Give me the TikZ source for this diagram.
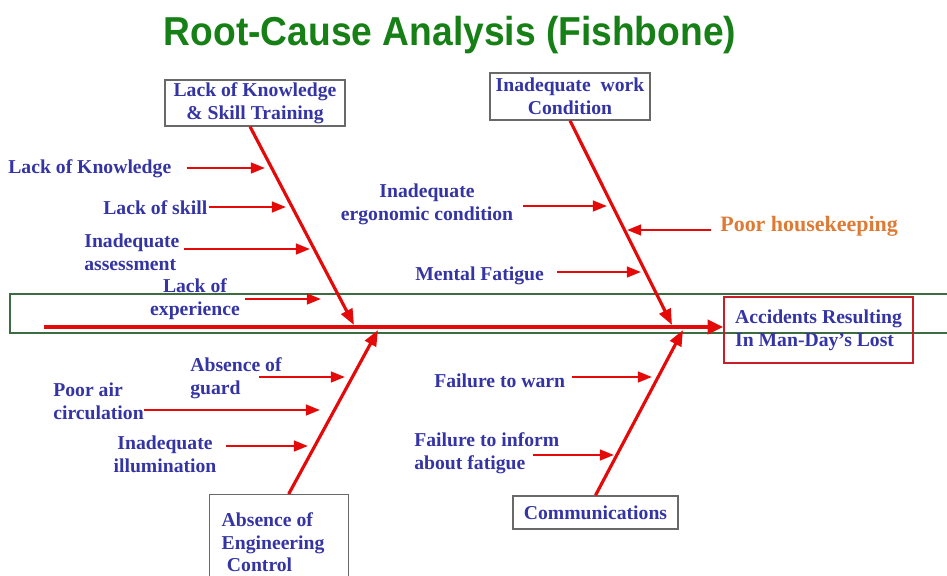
\documentclass[tikz,border=0pt]{standalone}
\usepackage{fontspec}
\setmainfont{Liberation Serif}
\newfontfamily\headfont{Liberation Sans}
\usetikzlibrary{arrows.meta, positioning, calc}
\definecolor{causeblue}{RGB}{52,52,164}
\definecolor{bonered}{RGB}{228,10,10}
\definecolor{headred}{RGB}{200,30,40}
\definecolor{housekeep}{RGB}{222,122,52}
\definecolor{titlegreen}{RGB}{22,128,22}
\definecolor{bandgreen}{RGB}{62,108,66}
\definecolor{boxgray}{RGB}{105,105,105}

\begin{document}
\begin{tikzpicture}[
    x=0.02cm, y=-0.02cm,
    txt/.style={inner sep=0pt, text=causeblue, font=\fontsize{11.2}{13}\selectfont\bfseries},
    cat/.style={draw=boxgray, line width=0.8pt, txt, align=center},
    bone/.style={draw=bonered, line width=1.8pt, -{Triangle[length=9pt,width=7pt]}},
    cause/.style={draw=bonered, line width=1.4pt, -{Triangle[length=8pt,width=6pt]}},
    spine/.style={draw=bonered, line width=2.7pt, -{Triangle[length=9pt,width=8pt]}},
]
\clip (0,0) rectangle (947,575);

\node[anchor=base, text=titlegreen, font=\headfont\fontsize{23}{26}\selectfont\bfseries]
    (title) at (450,45) {\scalebox{0.92}[1]{Root-Cause Analysis (Fishbone)}};

% band round the spine
\draw[bandgreen, line width=1.2pt] (10,294) rectangle (960,333);

% head and category boxes
\node[cat, draw=headred, align=left, minimum width=3.78cm, minimum height=1.32cm]
    (effect) at (818.5,330) {Accidents Resulting\\In Man-Day’s Lost};
\node[cat, minimum width=3.6cm, minimum height=0.92cm] (LK) at (255,103)
    {Lack of Knowledge\\\& Skill Training};
\node[cat, minimum width=3.2cm, minimum height=0.94cm] (IW) at (570,96.5)
    {Inadequate~ work\\Condition};
\node[cat, align=flush left, text width=2.3cm, anchor=north west, minimum width=2.78cm,
    minimum height=1.9cm] (AE) at (209,494) {Absence of\\Engineering\\\hspace{3pt}Control};
\node[cat, minimum width=3.3cm, minimum height=0.66cm] (CM) at (595.5,512.5)
    {Communications};

% where the bones meet the spine
\coordinate (tail) at (44,327);
\coordinate (h-lk) at (354,325);
\coordinate (h-iw) at (672,325);
\coordinate (h-ae) at (378,330);
\coordinate (h-cm) at (683,330);

% causes, upper left
\node[txt, anchor=west] (knowl) at (8,169) {Lack of Knowledge};
\node[txt, anchor=west] (skill) at (103,208) {Lack of skill};
\node[txt, anchor=west, align=left] (assess) at (84,252) {Inadequate\\assessment};
\node[txt, align=center] (exper) at (195,299) {Lack of\\experience};
\coordinate (knowl-tip) at (265,168);
\coordinate (skill-tip) at (286,207);
\coordinate (assess-tip) at (310,249);
\coordinate (exper-tip) at (321,299);

% causes, upper right
\node[txt, align=center] (ergo) at (427,204) {Inadequate\\ergonomic condition};
\node[txt, anchor=west, text=housekeep, font=\fontsize{12.5}{15}\selectfont\bfseries]
    (house) at (720,226) {Poor housekeeping};
\node[txt, anchor=west] (mental) at (415,276) {Mental Fatigue};
\coordinate (ergo-tip) at (607,206);
\coordinate (house-tip) at (627,230);
\coordinate (mental-tip) at (641,272);

% causes, lower left
\node[txt, anchor=west, align=left] (guard) at (190,378) {Absence of\\guard};
\node[txt, anchor=west, align=left] (air) at (53,401) {Poor air\\circulation};
\node[txt, align=center] (illum) at (165,454) {Inadequate\\illumination};
\coordinate (guard-tip) at (345,377);
\coordinate (air-tip) at (320,410);
\coordinate (illum-tip) at (308,446);

% causes, lower right
\node[txt, anchor=west] (warn) at (434,381) {Failure to warn};
\node[txt, anchor=west, align=left] (inform) at (414,453) {Failure to inform\\about fatigue};
\coordinate (warn-tip) at (652,377);
\coordinate (inform-tip) at (614,455);

% bones
\draw[bone] ([xshift=-2.8pt]LK.south) -- (h-lk);
\draw[bone] (IW.south) -- (h-iw);
\draw[bone] ([xshift=5.4pt]AE.north) -- (h-ae);
\draw[bone] (CM.north) -- (h-cm);
\draw[spine] (tail) -- (tail -| effect.west);

% cause arrows
\draw[cause] ($(knowl.east |- knowl-tip)+(15,0)$) -- (knowl-tip);
\draw[cause] ($(skill.east |- skill-tip)+(1,0)$) -- (skill-tip);
\draw[cause] ($(assess.east |- assess-tip)+(4,0)$) -- (assess-tip);
\draw[cause] ($(exper.east |- exper-tip)+(5,0)$) -- (exper-tip);
\draw[cause] ($(ergo.east |- ergo-tip)+(10,0)$) -- (ergo-tip);
\draw[cause] ($(house.west |- house-tip)+(-9,0)$) -- (house-tip);
\draw[cause] ($(mental.east |- mental-tip)+(13,0)$) -- (mental-tip);
\draw[cause] ($(guard.east |- guard-tip)+(-23,0)$) -- (guard-tip);
\draw[cause] (air.east |- air-tip) -- (air-tip);
\draw[cause] ($(illum.east |- illum-tip)+(9,0)$) -- (illum-tip);
\draw[cause] ($(warn.east |- warn-tip)+(6,0)$) -- (warn-tip);
\draw[cause] ($(inform.east |- inform-tip)+(-27,0)$) -- (inform-tip);

\end{tikzpicture}
\end{document}
